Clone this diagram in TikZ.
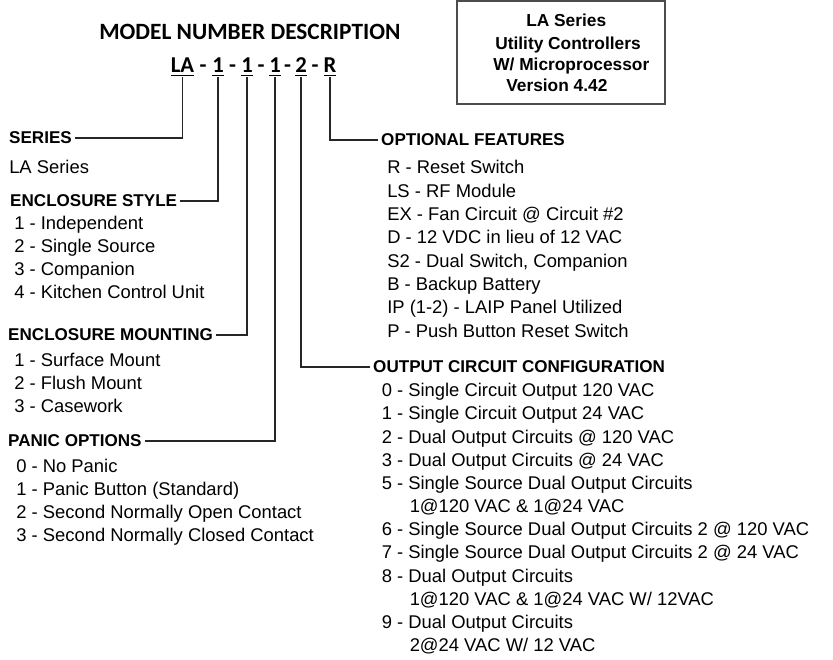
\documentclass[tikz,border=0pt]{standalone}
\usepackage{fontspec}
\setmainfont{Liberation Sans}
\newfontfamily\calibri{Carlito}
\usepackage{tikz}
\usetikzlibrary{positioning}

\tikzset{
    head/.style={font=\bfseries\fontsize{12.8}{15}\selectfont, anchor=west, inner sep=2pt},
    item/.style={font=\fontsize{13.8}{16}\selectfont, anchor=base west, inner sep=0pt},
    code/.style={font=\calibri\bfseries\fontsize{17}{20}\selectfont, anchor=base, inner sep=1pt},
    badgetext/.style={font=\bfseries\fontsize{13}{15}\selectfont, anchor=base west, inner sep=0pt},
    lead/.style={draw=black!85, line width=0.9pt}
}

\begin{document}
\begin{tikzpicture}[x=0.75pt, y=-0.75pt]
    \useasboundingbox (0,0) rectangle (833,660);

    % Title and model number
    \node[font=\calibri\bfseries\fontsize{17.5}{20}\selectfont, anchor=base west, inner sep=0pt] (title) at (99,40) {MODEL NUMBER DESCRIPTION};
    \node[code] (la)  at (182.5,73) {\underline{LA}};
    \node[code] (enc) at (218,73) {\underline{1}};
    \node[code] (mnt) at (247,73) {\underline{1}};
    \node[code] (pan) at (275,73) {\underline{1}};
    \node[code] (cfg) at (301,73) {\underline{2}};
    \node[code] (opt) at (330,73) {\underline{R}};
    \foreach \x [count=\i] in {203,232.5,261,287.5,315}
        \node[code] (dash-\i) at (\x,73) {-};

    % Version box
    \node[draw=black!70, line width=1.1pt, minimum width=156pt, minimum height=77pt, inner sep=0pt] (badge) at (561,52.5) {};
    \node[badgetext] (b1) at (526,27) {LA Series};
    \node[badgetext] (b2) at (495,50) {Utility Controllers};
    \node[badgetext] (b3) at (493,71) {W/ Microprocessor};
    \node[badgetext] (b4) at (506,92) {Version 4.42};

    % Left column
    \node[head] (series)   at (6.3,138)  {SERIES};
    \node[item] (laseries) at (9,174)    {LA Series};
    \node[head] (style)    at (7.3,201)  {ENCLOSURE STYLE};
    \foreach \t [count=\i] in {1 - Independent, 2 - Single Source, 3 - Companion, 4 - Kitchen Control Unit}
        \node[item] (style-\i) at (14,229+23.1*\i-23.1) {\t};
    \node[head] (mounting) at (5.3,335)  {ENCLOSURE MOUNTING};
    \foreach \t [count=\i] in {1 - Surface Mount, 2 - Flush Mount, 3 - Casework}
        \node[item] (mounting-\i) at (14,366+23*\i-23) {\t};
    \node[head] (panic)    at (5.3,441)  {PANIC OPTIONS};
    \foreach \t [count=\i] in {0 - No Panic, 1 - Panic Button (Standard), 2 - Second Normally Open Contact, 3 - Second Normally Closed Contact}
        \node[item] (panic-\i) at (16,472+23.3*\i-23.3) {\t};

    % Right column
    \node[head] (options)  at (378.3,140) {OPTIONAL FEATURES};
    \foreach \t [count=\i] in {R - Reset Switch, LS - RF Module, EX - Fan Circuit @ Circuit \#2, D - 12 VDC in lieu of 12 VAC, {S2 - Dual Switch, Companion}, B - Backup Battery, IP (1-2) - LAIP Panel Utilized, P - Push Button Reset Switch}
        \node[item] (options-\i) at (387,174+23.3*\i-23.3) {\t};
    \node[head] (output)   at (370.3,367) {OUTPUT CIRCUIT CONFIGURATION};
    \foreach \t [count=\i] in {0 - Single Circuit Output 120 VAC, 1 - Single Circuit Output 24 VAC, 2 - Dual Output Circuits @ 120 VAC, 3 - Dual Output Circuits @ 24 VAC, 5 - Single Source Dual Output Circuits, \hspace*{21pt}1@120 VAC \& 1@24 VAC, 6 - Single Source Dual Output Circuits 2 @ 120 VAC, 7 - Single Source Dual Output Circuits 2 @ 24 VAC, 8 - Dual Output Circuits, \hspace*{21pt}1@120 VAC \& 1@24 VAC W/ 12VAC, 9 - Dual Output Circuits, \hspace*{21pt}2@24 VAC W/ 12 VAC}
        \node[item] (output-\i) at (381.5,396.7+23.18*\i-23.18) {\t};

    % Leaders
    \draw[lead] (la.south)  |- (series.east);
    \draw[lead] (enc.south) |- (style.east);
    \draw[lead] (mnt.south) |- (mounting.east);
    \draw[lead] (pan.south) |- (panic.east);
    \draw[lead] (cfg.south) |- (output.west);
    \draw[lead] (opt.south) |- (options.west);
\end{tikzpicture}
\end{document}
